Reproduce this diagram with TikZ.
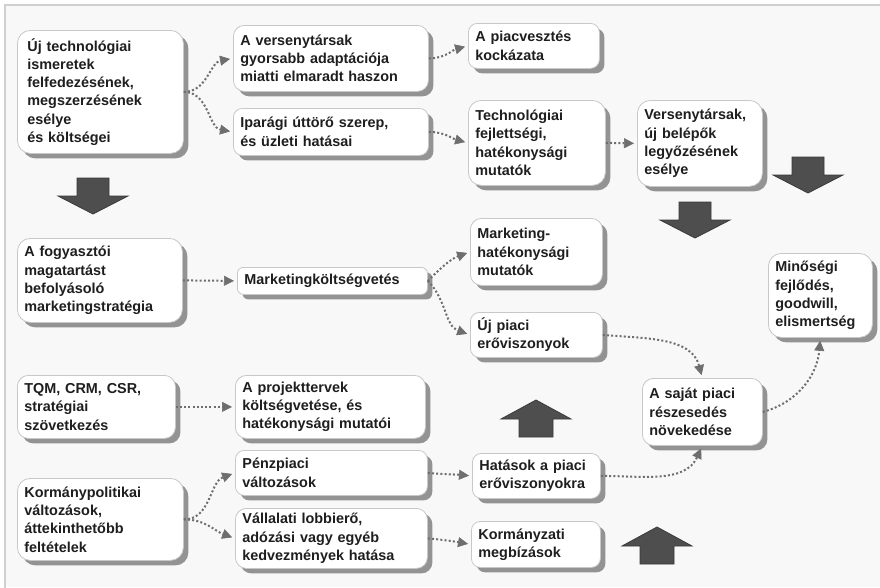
\documentclass[tikz,border=0pt]{standalone}
\usepackage{fontspec}
\setmainfont{Liberation Sans}
\usetikzlibrary{arrows.meta,shadows}

\definecolor{pagebg}{HTML}{F8F8F8}
\definecolor{framegray}{HTML}{D0D0D0}
\definecolor{boxline}{HTML}{C8C8C8}
\definecolor{shadowgray}{HTML}{939393}
\definecolor{linkgray}{HTML}{6E6E6E}
\definecolor{inkdark}{HTML}{1E1E1E}
\definecolor{arrowlight}{HTML}{8A8A8A}
\definecolor{arrowdark}{HTML}{4E4E4E}
\definecolor{arrowedge}{HTML}{3A3A3A}

\tikzset{
  card/.style={draw=boxline, line width=0.8pt, fill=white, rounded corners=11pt,
    drop shadow={shadow xshift=5pt, shadow yshift=-5pt, fill=shadowgray, opacity=1},
    anchor=north west, align=left, inner xsep=7pt, inner ysep=2pt,
    font=\bfseries\fontsize{14.4}{18.3}\selectfont, text=inkdark},
  link/.style={draw=linkgray, line width=2pt, dash pattern=on 2pt off 2.2pt,
    -{Triangle[length=10pt,width=10pt,line width=0.6pt]}, shorten >=3pt},
  bigarrow/.style={draw=arrowedge, line width=0.8pt, line join=miter,
    left color=arrowdark, middle color=arrowlight, right color=arrowdark},
  pics/downblock/.style={code={
    \path[bigarrow] (-16,0) -- (16,0) -- (16,18) -- (35,18) -- (0,36)
      -- (-35,18) -- (-16,18) -- cycle;}},
  pics/upblock/.style={code={
    \path[bigarrow] (-17,0) -- (17,0) -- (17,-18) -- (35,-18) -- (0,-37)
      -- (-35,-18) -- (-17,-18) -- cycle;}},
}

\begin{document}
\begin{tikzpicture}[x=1pt,y=-1pt]
\useasboundingbox (0,0) rectangle (880,587);
\fill[white] (0,0) rectangle (880,587);
\fill[pagebg] (5,5) rectangle (880,587);
\draw[framegray, line width=1.2pt] (5,592) -- (5,5) -- (885,5);

% boxes
\node[card, rounded corners=13pt, inner xsep=10pt, text width=146pt, minimum height=123pt] (A) at (17,30)
  {Új technológiai\\ismeretek\\felfedezésének,\\megszerzésének\\esélye\\és költségei};
\node[card, text width=181pt, minimum height=66pt] (B) at (233,25)
  {A versenytársak\\gyorsabb adaptációja\\miatti elmaradt haszon};
\node[card, rounded corners=9pt, text width=117pt, minimum height=45pt] (C) at (468,23)
  {A piacvesztés\\kockázata};
\node[card, rounded corners=9pt, text width=181pt, minimum height=47pt] (D) at (233,108)
  {Iparági úttörő szerep,\\és üzleti hatásai};
\node[card, rounded corners=13pt, text width=123pt, minimum height=85pt] (E) at (468,100)
  {Technológiai\\fejlettségi,\\hatékonysági\\mutatók};
\node[card, rounded corners=13pt, text width=111pt, minimum height=86pt] (F) at (637,100)
  {Versenytársak,\\új belépők\\legyőzésének\\esélye};
\node[card, rounded corners=13pt, text width=151pt, minimum height=84pt] (G) at (17,238)
  {A fogyasztói\\magatartást\\befolyásoló\\marketingstratégia};
\node[card, rounded corners=6pt, text width=176pt, minimum height=27pt] (H) at (237,267)
  {Marketingköltségvetés};
\node[card, text width=118pt, minimum height=67pt] (I) at (470,218)
  {Marketing-\\hatékonysági\\mutatók};
\node[card, rounded corners=9pt, text width=118pt, minimum height=45pt] (J) at (470,312)
  {Új piaci\\erőviszonyok};
\node[card, rounded corners=13pt, text width=90pt, minimum height=84pt] (K) at (768,253)
  {Minőségi\\fejlődés,\\goodwill,\\elismertség};
\node[card, text width=106pt, minimum height=67pt] (L) at (642,378)
  {A saját piaci\\részesedés\\növekedése};
\node[card, text width=144pt, minimum height=63pt] (M) at (17,375)
  {TQM, CRM, CSR,\\stratégiai\\szövetkezés};
\node[card, text width=176pt, minimum height=63pt] (N) at (235,375)
  {A projekttervek\\költségvetése, és\\hatékonysági mutatói};
\node[card, rounded corners=9pt, text width=178pt, minimum height=45pt] (O) at (235,450)
  {Pénzpiaci\\változások};
\node[card, rounded corners=13pt, text width=152pt, minimum height=82pt] (P) at (17,478)
  {Kormánypolitikai\\változások,\\áttekinthetőbb\\feltételek};
\node[card, text width=178pt, minimum height=60pt] (Q) at (235,508)
  {Vállalati lobbierő,\\adózási vagy egyéb\\kedvezmények hatása};
\node[card, rounded corners=9pt, text width=114pt, minimum height=45pt] (R) at (472,453)
  {Hatások a piaci\\erőviszonyokra};
\node[card, rounded corners=9pt, text width=115pt, minimum height=46pt] (S) at (471,521)
  {Kormányzati\\megbízások};

% block arrows
\pic at (93,178) {downblock};
\pic at (808,157) {downblock};
\pic at (695,202) {downblock};
\pic at (536,437) {upblock};
\pic at (657,564) {upblock};

% dotted connectors
\draw[link] (A.east) to[out=0,in=190] (B.west);
\draw[link] (A.east) to[out=0,in=170] (D.west);
\draw[link] (B.east) to[out=0,in=195] (C.west);
\draw[link] (D.east) to[out=0,in=165] (E.west);
\draw[link] (E.east) -- (F.west);
\draw[link] (G.east) -- (H.west);
\draw[link] (H.east) to[out=45,in=200] (I.west);
\draw[link] (H.east) to[out=-45,in=160] (J.west);
\draw[link] (J.east) to[out=-5,in=105] (L.north);
\draw[link] (L.east) to[out=15,in=-95] (K.south);
\draw[link] (M.east) -- (N.west);
\draw[link] (P.east) to[out=0,in=200] (O.west);
\draw[link] (P.east) to[out=0,in=160] (Q.west);
\draw[link] (O.east) to[out=-5,in=175] (R.west);
\draw[link] (Q.east) to[out=-5,in=170] (S.west);
\draw[link] (R.east) to[out=0,in=-115] (L.south);
\end{tikzpicture}
\end{document}
